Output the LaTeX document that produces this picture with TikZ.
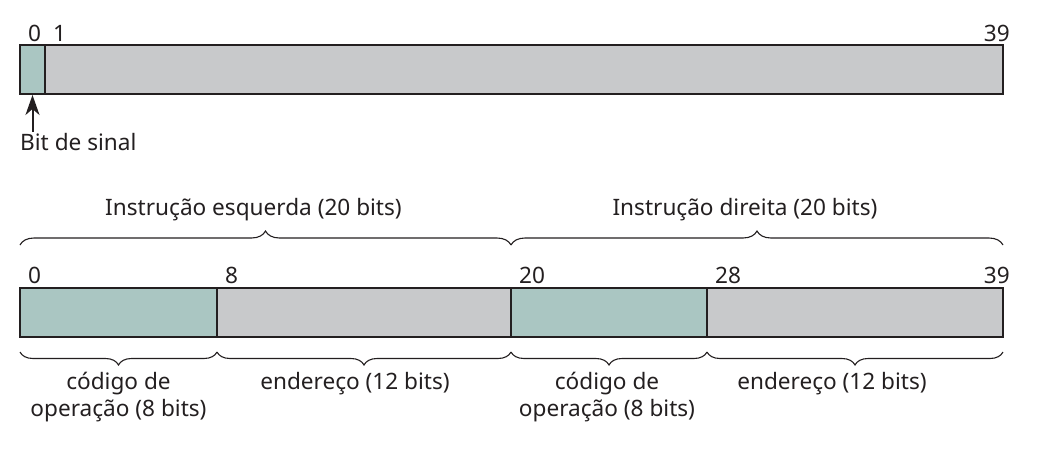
\documentclass[tikz,border=0pt]{standalone}
\usepackage{fontspec}
\setmainfont{Noto Sans}
\usetikzlibrary{decorations.pathreplacing,arrows.meta}

\definecolor{opcor}{RGB}{170,198,194}
\definecolor{endcor}{RGB}{200,201,203}
\definecolor{traco}{RGB}{35,31,32}

\tikzset{
  campo/.style={draw=traco,line width=1.6pt,inner sep=0pt,outer sep=0pt,
    anchor=north west,minimum height=49pt},
  chave/.style={decorate,decoration={brace,amplitude=14pt},line width=1.1pt,draw=traco},
  chavebaixo/.style={decorate,decoration={brace,mirror,amplitude=13pt},line width=1.1pt,draw=traco},
  rotulo/.style={font=\fontsize{22.6}{27}\selectfont,text=traco,inner sep=0pt}
}

\begin{document}
\begin{tikzpicture}[x=1pt,y=-1pt]
\useasboundingbox (0,0) rectangle (1037,467);

% Palavra de numero

  \node[campo,fill=opcor,minimum width=25pt] (s) at (20,45) {};
  \node[campo,fill=endcor,minimum width=958pt] (m) at (45,45) {};

  \node[rotulo,anchor=base west] (n0) at ([xshift=8pt,yshift=4pt]s.north west) {0};
  \node[rotulo,anchor=base west] (n1) at ([xshift=8pt,yshift=4pt]m.north west) {1};
  \node[rotulo,anchor=base east] (n39) at ([xshift=7pt,yshift=4pt]m.north east) {39};

% Bit de sinal
  \node[rotulo,anchor=base west] (sinal) at (20,150) {Bit de sinal};
  \draw[line width=2pt,draw=traco,-{Stealth[length=20pt,width=14pt,inset=6pt]}]
    ([yshift=1pt]sinal.north -| s.south) -- ([yshift=-1pt]s.south);

% Palavra de instrucao

  \foreach \nome/\xa/\lg/\cor/\bit in {a/20/197/opcor/0, b/217/294/endcor/8,
                                       c/511/196/opcor/20, d/707/296/endcor/28}{
    \node[campo,fill=\cor,minimum width=\lg pt] (\nome) at (\xa,288) {};
    \node[rotulo,anchor=base west] (bit\nome) at ([xshift=8pt,yshift=5pt]\nome.north west) {\bit};
  }
  \node[rotulo,anchor=base east] (bitfim) at ([xshift=7pt,yshift=5pt]d.north east) {39};

% Chaves de cima
  \draw[chave] ([yshift=43pt]a.north west) -- ([yshift=43pt]b.north east)
    node[rotulo,midway,anchor=base,xshift=-12pt,yshift=30pt] (esq) {Instrução esquerda (20 bits)};
  \draw[chave] ([yshift=43pt]c.north west) -- ([yshift=43pt]d.north east)
    node[rotulo,midway,anchor=base,xshift=-12pt,yshift=30pt] (dir) {Instrução direita (20 bits)};

% Chaves de baixo
  \foreach \nome/\dx/\txt in {a/0/{código de\\operação (8 bits)}, b/-9/{endereço (12 bits)},
                              c/-2/{código de\\operação (8 bits)}, d/-23/{endereço (12 bits)}}{
    \draw[chavebaixo] ([yshift=-15pt]\nome.south west) -- ([yshift=-15pt]\nome.south east)
      node[rotulo,midway,anchor=north,align=center,xshift=\dx pt,yshift=-20pt] (lb\nome) {\txt};
  }

\end{tikzpicture}
\end{document}
